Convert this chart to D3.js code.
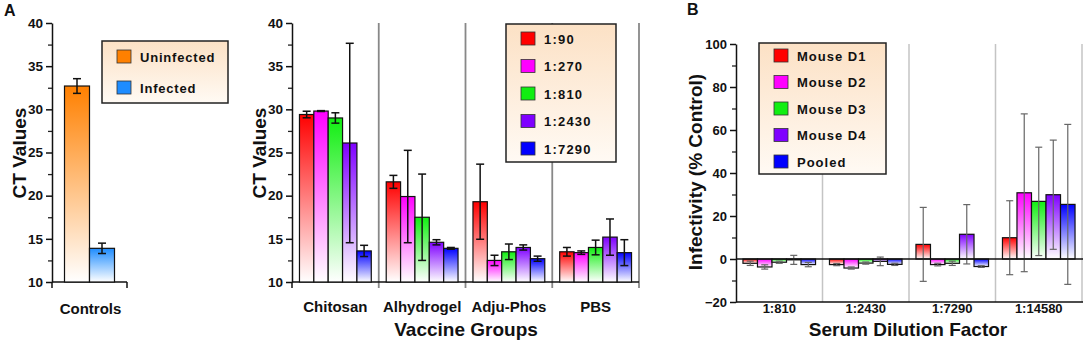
<!DOCTYPE html>
<html>
<head>
<meta charset="utf-8">
<script src="https://cdn.jsdelivr.net/npm/d3@7"></script>
<style>
  body { margin: 0; background: #fff; }
  svg text { font-family: "Liberation Sans", Arial, sans-serif; font-weight: bold; fill: #111; }
</style>
</head>
<body>
<svg id="chart" width="1084" height="342"></svg>
<script>
// ---- data ----
const controlGroups = ["Controls"];
const controlSeries = ["Uninfected", "Infected"];
const controlMeans = [32.7, 13.9];
const controlErrs = [0.85, 0.6];

const vaccineGroups = ["Chitosan", "Alhydrogel", "Adju-Phos", "PBS"];
const dilutions = ["1:90", "1:270", "1:810", "1:2430", "1:7290"];
const ctMeans = [
  [29.4, 29.8, 29.0, 26.1, 13.6],
  [21.6, 19.9, 17.5, 14.6, 13.9],
  [19.3, 12.5, 13.5, 14.0, 12.7],
  [13.5, 13.4, 14.0, 15.2, 13.4]
];
const ctErrs = [
  [0.38, 0.05, 0.6, 11.55, 0.65],
  [0.75, 5.35, 5.0, 0.3, 0.1],
  [4.35, 0.6, 0.9, 0.3, 0.3],
  [0.5, 0.2, 0.85, 2.1, 1.5]
];
const ctTicks = [10, 15, 20, 25, 30, 35, 40];
const ctMinorTicks = [12.5, 17.5, 22.5, 27.5, 32.5, 37.5];

const serumDilutions = ["1:810", "1:2430", "1:7290", "1:14580"];
const mice = ["Mouse D1", "Mouse D2", "Mouse D3", "Mouse D4", "Pooled"];
const infectMeans = [
  [-2.0, -3.7, -1.5, -0.4, -2.6],
  [-2.6, -4.2, -1.9, -1.1, -2.5],
  [6.8, -2.6, -2.0, 11.5, -3.5],
  [9.9, 30.8, 26.8, 29.9, 25.4]
];
const infectErrs = [
  [1.0, 1.0, 0.5, 2.1, 1.0],
  [0.5, 0.5, 0.5, 2.0, 0.5],
  [17.2, 0.6, 1.0, 13.8, 0.4],
  [17.2, 36.7, 25.2, 25.4, 37.2]
];
const infectTicks = [-20, 0, 20, 40, 60, 80, 100];
const infectMinorTicks = [-10, 10, 30, 50, 70, 90];

const controlColors = ["#ff8000", "#1e8cff"];
const seriesColors = ["#ff0000", "#ff00ff", "#11ee11", "#7f00ff", "#0000ff"];

// ---- setup ----
const svg = d3.select("#chart");
const defs = svg.append("defs");

function gradient(id, color) {
  const g = defs.append("linearGradient").attr("id", id)
    .attr("x1", 0).attr("y1", 0).attr("x2", 0).attr("y2", 1);
  g.append("stop").attr("offset", "0%").attr("stop-color", color);
  g.append("stop").attr("offset", "100%").attr("stop-color", "#ffffff");
}
controlColors.forEach((c, i) => gradient("gc" + i, c));
seriesColors.forEach((c, i) => gradient("gs" + i, c));

const lg = defs.append("linearGradient").attr("id", "legendBg")
  .attr("x1", 0).attr("y1", 0).attr("x2", 0).attr("y2", 1);
lg.append("stop").attr("offset", "0%").attr("stop-color", "#fce1c5");
lg.append("stop").attr("offset", "100%").attr("stop-color", "#fffaf4");

function drawYAxis(x, y, majors, minors, fontSize) {
  svg.append("g").attr("transform", "translate(" + x + ",0)")
    .call(d3.axisLeft(y).tickValues(minors).tickSize(4).tickFormat(""))
    .call(a => a.select(".domain").remove())
    .call(a => a.selectAll("line").attr("stroke", "#222").attr("stroke-width", 1.3));
  svg.append("g").attr("transform", "translate(" + x + ",0)")
    .call(d3.axisLeft(y).tickValues(majors).tickSize(6).tickSizeOuter(0).tickPadding(3))
    .call(a => a.select(".domain").attr("stroke", "#111").attr("stroke-width", 1.5))
    .call(a => a.selectAll("line").attr("stroke", "#111").attr("stroke-width", 1.5))
    .call(a => a.selectAll("text").attr("font-size", fontSize).attr("fill", "#111"));
}

function yTitle(x, yc, label) {
  svg.append("text")
    .attr("transform", "translate(" + x + "," + yc + ") rotate(-90)")
    .attr("text-anchor", "middle")
    .attr("font-size", "19px")
    .text(label);
}

function legend(x, y, w, h, names, fills, rowGap, firstRow, letterSpacing) {
  const g = svg.append("g").attr("transform", "translate(" + x + "," + y + ")");
  g.append("rect").attr("width", w).attr("height", h)
    .attr("fill", "url(#legendBg)").attr("stroke", "#222").attr("stroke-width", 1.5);
  names.forEach((n, i) => {
    const cy = firstRow + i * rowGap;
    g.append("rect").attr("x", 15).attr("y", cy - 6.5).attr("width", 14).attr("height", 13)
      .attr("fill", fills[i]).attr("stroke", "#333").attr("stroke-width", 0.8);
    g.append("text").attr("x", 38).attr("y", cy + 5)
      .attr("font-size", "13px").attr("letter-spacing", letterSpacing)
      .text(n);
  });
}

// ---- panel A, controls ----
const yA = d3.scaleLinear().domain([10, 40]).range([282, 23]);
const xCtrl = d3.scaleBand().domain(controlGroups).range([52, 127]);
const xCtrlIn = d3.scaleBand().domain(controlSeries).range([0, xCtrl.bandwidth()]).paddingOuter(0.5);

svg.append("line").attr("x1", 52).attr("x2", 127).attr("y1", 282).attr("y2", 282)
  .attr("stroke", "#111").attr("stroke-width", 1.5);
[52, 127].forEach(xx => svg.append("line").attr("x1", xx).attr("x2", xx)
  .attr("y1", 282).attr("y2", 288).attr("stroke", "#111").attr("stroke-width", 1.5));

const ctrlG = svg.append("g").attr("transform", "translate(" + xCtrl("Controls") + ",0)");
controlSeries.forEach((s, i) => {
  const bx = xCtrlIn(s), bw = xCtrlIn.bandwidth();
  ctrlG.append("rect").attr("x", bx).attr("y", yA(controlMeans[i]))
    .attr("width", bw).attr("height", yA(10) - yA(controlMeans[i]))
    .attr("fill", "url(#gc" + i + ")").attr("stroke", "#111").attr("stroke-width", 1.2);
  const cx = bx + bw / 2;
  const top = yA(controlMeans[i] + controlErrs[i]), bot = yA(controlMeans[i] - controlErrs[i]);
  ctrlG.append("line").attr("x1", cx).attr("x2", cx).attr("y1", top).attr("y2", bot).attr("stroke", "#111").attr("stroke-width", 1.5);
  [top, bot].forEach(yy => ctrlG.append("line").attr("x1", cx - 4).attr("x2", cx + 4)
    .attr("y1", yy).attr("y2", yy).attr("stroke", "#111").attr("stroke-width", 1.5));
});
drawYAxis(52, yA, ctTicks, ctMinorTicks, "13.5px");
yTitle(26, 153, "CT Values");
svg.append("text").attr("x", xCtrl("Controls") + xCtrl.bandwidth() / 2 + 1).attr("y", 314)
  .attr("text-anchor", "middle").attr("font-size", "15px").text("Controls");
legend(102, 41, 126, 62, controlSeries, controlColors.map(c => c), 31, 15.5, "0.8px");

// ---- panel A, vaccine groups ----
const xVac = d3.scaleBand().domain(vaccineGroups).range([292, 639]);
const xVacIn = d3.scaleBand().domain(dilutions).range([0, xVac.bandwidth()]).paddingOuter(0.52);

vaccineGroups.forEach(gName => {
  const xx = xVac(gName) + xVac.bandwidth();
  svg.append("line").attr("x1", xx).attr("x2", xx).attr("y1", 23).attr("y2", 288)
    .attr("stroke", "#888").attr("stroke-width", 1.8);
});
svg.append("line").attr("x1", 292).attr("x2", 292).attr("y1", 282).attr("y2", 288)
  .attr("stroke", "#111").attr("stroke-width", 1.5);
svg.append("line").attr("x1", 292).attr("x2", 639).attr("y1", 282).attr("y2", 282)
  .attr("stroke", "#111").attr("stroke-width", 1.5);

vaccineGroups.forEach((gName, gi) => {
  const g = svg.append("g").attr("transform", "translate(" + xVac(gName) + ",0)");
  dilutions.forEach((d, i) => {
    const m = ctMeans[gi][i], e = ctErrs[gi][i];
    const bx = xVacIn(d), bw = xVacIn.bandwidth();
    g.append("rect").attr("x", bx).attr("y", yA(m)).attr("width", bw).attr("height", yA(10) - yA(m))
      .attr("fill", "url(#gs" + i + ")").attr("stroke", "#111").attr("stroke-width", 1.2);
  });
  dilutions.forEach((d, i) => {
    const m = ctMeans[gi][i], e = ctErrs[gi][i];
    const cx = xVacIn(d) + xVacIn.bandwidth() / 2;
    const top = yA(m + e), bot = yA(m - e);
    g.append("line").attr("x1", cx).attr("x2", cx).attr("y1", top).attr("y2", bot).attr("stroke", "#111").attr("stroke-width", 1.5);
    [top, bot].forEach(yy => g.append("line").attr("x1", cx - 4).attr("x2", cx + 4)
      .attr("y1", yy).attr("y2", yy).attr("stroke", "#111").attr("stroke-width", 1.5));
  });
  svg.append("text").attr("x", xVac(gName) + xVac.bandwidth() / 2).attr("y", 312)
    .attr("text-anchor", "middle").attr("font-size", "15px").text(gName);
});
drawYAxis(292, yA, ctTicks, ctMinorTicks, "13.5px");
yTitle(266, 153, "CT Values");
svg.append("text").attr("x", 466).attr("y", 336).attr("text-anchor", "middle")
  .attr("font-size", "19px").text("Vaccine Groups");
legend(506, 24, 110, 138, dilutions, seriesColors, 27.5, 14.5, "1.2px");

// ---- panel B ----
const yB = d3.scaleLinear().domain([-20, 100]).range([302, 44]);
const xB = d3.scaleBand().domain(serumDilutions).range([736, 1082]);
const xBIn = d3.scaleBand().domain(mice).range([0, xB.bandwidth()]).paddingOuter(0.48);

serumDilutions.forEach(s => {
  const xx = xB(s) + xB.bandwidth();
  svg.append("line").attr("x1", xx).attr("x2", xx).attr("y1", 44).attr("y2", 302)
    .attr("stroke", "#c4c4c4").attr("stroke-width", 1.5);
});
svg.append("line").attr("x1", 736).attr("x2", 1083).attr("y1", 302).attr("y2", 302)
  .attr("stroke", "#111").attr("stroke-width", 1.5);

serumDilutions.forEach((s, gi) => {
  const g = svg.append("g").attr("transform", "translate(" + xB(s) + ",0)");
  mice.forEach((mName, i) => {
    const m = infectMeans[gi][i];
    g.append("rect").attr("x", xBIn(mName)).attr("y", Math.min(yB(m), yB(0)))
      .attr("width", xBIn.bandwidth()).attr("height", Math.abs(yB(m) - yB(0)))
      .attr("fill", "url(#gs" + i + ")").attr("stroke", "#111").attr("stroke-width", 1.2);
  });
  mice.forEach((mName, i) => {
    const m = infectMeans[gi][i], e = infectErrs[gi][i];
    const cx = xBIn(mName) + xBIn.bandwidth() / 2;
    const top = yB(m + e), bot = yB(m - e);
    g.append("line").attr("x1", cx).attr("x2", cx).attr("y1", top).attr("y2", bot).attr("stroke", "#666").attr("stroke-width", 1.2);
    [top, bot].forEach(yy => g.append("line").attr("x1", cx - 3.5).attr("x2", cx + 3.5)
      .attr("y1", yy).attr("y2", yy).attr("stroke", "#666").attr("stroke-width", 1.2));
  });
  svg.append("text").attr("x", xB(s) + xB.bandwidth() / 2).attr("y", 313)
    .attr("text-anchor", "middle").attr("font-size", "13px").text(s);
});
svg.append("line").attr("x1", 736).attr("x2", 1083).attr("y1", yB(0)).attr("y2", yB(0))
  .attr("stroke", "#111").attr("stroke-width", 1.5);
drawYAxis(736, yB, infectTicks, infectMinorTicks, "13px");
yTitle(702, 172, "Infectivity (% Control)");
svg.append("text").attr("x", 908).attr("y", 336).attr("text-anchor", "middle")
  .attr("font-size", "19px").text("Serum Dilution Factor");
legend(759, 43, 127, 131, mice, seriesColors, 26.5, 12.5, "1px");

// panel letters
svg.append("text").attr("x", 4).attr("y", 16).attr("font-size", "16px").text("A");
svg.append("text").attr("x", 687).attr("y", 15).attr("font-size", "16px").text("B");
</script>
</body>
</html>
